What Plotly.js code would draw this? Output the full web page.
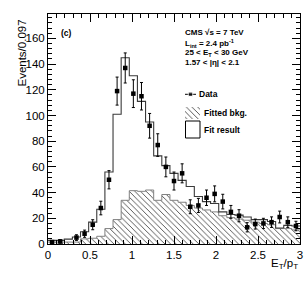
<!DOCTYPE html>
<html>
<head>
<meta charset="utf-8">
<script src="https://cdn.plot.ly/plotly-3.0.1.min.js"></script>
<style>html,body{margin:0;padding:0;background:#fff;}#chart{width:307px;height:283px;}</style>
</head>
<body>
<div id="chart"></div>
<script>
// ---- data (31 bins from 0 to 3) ----
var xMin = 0, xMax = 3, nBins = 31;
var dataCounts = [1.5, 2, null, 5, 8, 15, 28, 50, 119, 137, 117, 115, 92, 77, 60, 49, 55, 29, 30, 36, 39, 33, 25, 22, 13, 15.5, 16, 17, 21, 17, 14];
var dataErrors = [1.2, 1.4, null, 2.2, 2.8, 3.9, 5.3, 7.1, 10.9, 11.7, 10.8, 10.7, 9.6, 8.8, 7.7, 7.0, 7.4, 5.4, 5.5, 6.0, 6.2, 5.7, 5.0, 4.7, 3.6, 3.9, 4.0, 4.1, 4.6, 4.1, 3.7];
var fitResult = [2.8, 2.8, 3.8, 5.5, 9.5, 17, 27, 56, 101, 145, 131, 111, 95, 68.6, 61, 55, 49.5, 44.7, 37, 33, 31.5, 25, 23, 22.5, 21, 19, 19, 17.5, 12.5, 14.5, 14];
var fittedBkg = [1.5, 1.5, 1.5, 1.5, 4, 4.5, 6, 12, 19, 34, 41.5, 41, 42, 34, 38.5, 34, 32.5, 30, 28, 26.5, 25, 22, 20.5, 19.5, 18.5, 17, 16, 15, 12, 12, 11];
var xTickVals = [0, 0.5, 1, 1.5, 2, 2.5, 3];
var xTickText = ['0', '0.5', '1', '1.5', '2', '2.5', '3'];
var infoLines = ['<b>CMS √s = 7 TeV</b>', '<b>L<sub>int</sub> = 2.4 pb<sup>-1</sup></b>', '<b>25 &lt; E<sub>T</sub> &lt; 30 GeV</b>', '<b>1.57 &lt; |η| &lt; 2.1</b>'];
var legendLabels = ['Data', 'Fitted bkg.', 'Fit result'];

// ---- derived ----
var binW = (xMax - xMin) / nBins;
var centers = dataCounts.map(function(_, i){ return xMin + (i + 0.5) * binW; });
function stepX(v){ var e = v.map(function(_, i){ return xMin + i * binW; }); e.push(xMax); return e; }
function stepY(v){ return v.concat([v[v.length - 1]]); }

var FONT = 'Liberation Sans, Arial, Helvetica, sans-serif';

// paper coords from pixel positions in the 307x283 frame (plot area 48..300, 14..244)
function px(x){ return (x - 48) / 252; }
function py(y){ return (244 - y) / 230; }

var traces = [
  { type: 'scatter', mode: 'lines', x: stepX(fittedBkg), y: stepY(fittedBkg),
    line: { shape: 'hv', color: '#808080', width: 1 },
    fill: 'tozeroy', fillcolor: 'white',
    fillpattern: { shape: '\\', fgcolor: '#444', bgcolor: 'white', size: 4, solidity: 0.22 },
    hoverinfo: 'skip', showlegend: false },
  { type: 'scatter', mode: 'lines', x: stepX(fitResult), y: stepY(fitResult),
    line: { shape: 'hv', color: '#3a3a3a', width: 1.1 },
    hoverinfo: 'skip', showlegend: false },
  { type: 'scatter', mode: 'markers', x: centers, y: dataCounts,
    marker: { symbol: 'square', size: 4.5, color: 'black' },
    error_y: { type: 'data', array: dataErrors, visible: true, color: 'black', thickness: 1, width: 1.5 },
    showlegend: false },
  // legend swatches (overlay axes in plot-fraction coordinates)
  { type: 'scatter', mode: 'lines+markers', xaxis: 'x2', yaxis: 'y2',
    x: [px(185), px(190.5), px(196)], y: [py(94.3), py(94.3), py(94.3)],
    line: { color: 'black', width: 1 }, marker: { symbol: 'square', size: [0, 4.5, 0], color: 'black' },
    hoverinfo: 'skip', showlegend: false },
  { type: 'scatter', mode: 'lines', xaxis: 'x2', yaxis: 'y2',
    x: [px(185), px(200), px(200), px(185), px(185)], y: [py(107), py(107), py(119), py(119), py(107)],
    fill: 'toself', fillcolor: 'white', line: { width: 0, color: 'rgba(0,0,0,0)' },
    fillpattern: { shape: '\\', fgcolor: '#444', bgcolor: 'white', size: 4, solidity: 0.22 },
    hoverinfo: 'skip', showlegend: false }
];

var annotations = [
  { xref: 'paper', yref: 'paper', x: -0.105, y: py(53), text: 'Events/0.097', textangle: -90,
    showarrow: false, xanchor: 'center', yanchor: 'middle', font: { family: FONT, size: 11.5, color: 'black' } },
  { xref: 'paper', yref: 'paper', x: 1.0, y: py(264), text: 'E<sub>T</sub>/p<sub>T</sub>',
    showarrow: false, xanchor: 'right', yanchor: 'middle', font: { family: FONT, size: 11.5, color: 'black' } },
  { xref: 'paper', yref: 'paper', x: px(59), y: py(33.5), text: '<b>(c)</b>',
    showarrow: false, xanchor: 'left', yanchor: 'middle', font: { family: FONT, size: 8.5, color: 'black' } }
];
var lineYs = [33, 43.5, 53, 62.5];
infoLines.forEach(function(t, i){
  annotations.push({ xref: 'paper', yref: 'paper', x: px(182.5), y: py(lineYs[i]), text: t,
    showarrow: false, xanchor: 'left', yanchor: 'middle', font: { family: FONT, size: 8, color: 'black' } });
});
var legXs = [196.5, 201.5, 201.5], legYs = [94.3, 113, 129.5];
legendLabels.forEach(function(t, i){
  annotations.push({ xref: 'paper', yref: 'paper', x: px(legXs[i]), y: py(legYs[i]), text: '<b>' + t + '</b>',
    showarrow: false, xanchor: 'left', yanchor: 'middle', font: { family: FONT, size: 8.5, color: 'black' } });
});

var layout = {
  width: 307, height: 283,
  margin: { l: 48, r: 7, t: 14, b: 39, pad: 0 },
  paper_bgcolor: 'white', plot_bgcolor: 'white',
  showlegend: false,
  xaxis: { range: [xMin, xMax], tickvals: xTickVals, ticktext: xTickText,
    ticks: 'inside', ticklen: 8, tickcolor: 'black', tickwidth: 1,
    minor: { dtick: 0.1, ticklen: 4, ticks: 'inside', tickcolor: 'black', tickwidth: 1 },
    showline: true, linecolor: 'black', linewidth: 1, mirror: 'ticks',
    showgrid: false, zeroline: false,
    tickfont: { family: FONT, size: 11.5, color: 'black' } },
  yaxis: { range: [0, 179], dtick: 20, tick0: 0,
    ticks: 'inside', ticklen: 8, tickcolor: 'black', tickwidth: 1,
    minor: { dtick: 4, ticklen: 4, ticks: 'inside', tickcolor: 'black', tickwidth: 1 },
    showline: true, linecolor: 'black', linewidth: 1, mirror: 'ticks',
    showgrid: false, zeroline: false,
    tickfont: { family: FONT, size: 11.5, color: 'black' } },
  xaxis2: { overlaying: 'x', range: [0, 1], visible: false, fixedrange: true },
  yaxis2: { overlaying: 'y', range: [0, 1], visible: false, fixedrange: true },
  shapes: [
    { type: 'rect', xref: 'paper', yref: 'paper', x0: px(185.5), x1: px(200), y0: py(121), y1: py(138),
      line: { color: 'black', width: 1 }, fillcolor: 'rgba(0,0,0,0)' }
  ],
  annotations: annotations
};

Plotly.newPlot('chart', traces, layout, { staticPlot: true, displayModeBar: false });
</script>
</body>
</html>
